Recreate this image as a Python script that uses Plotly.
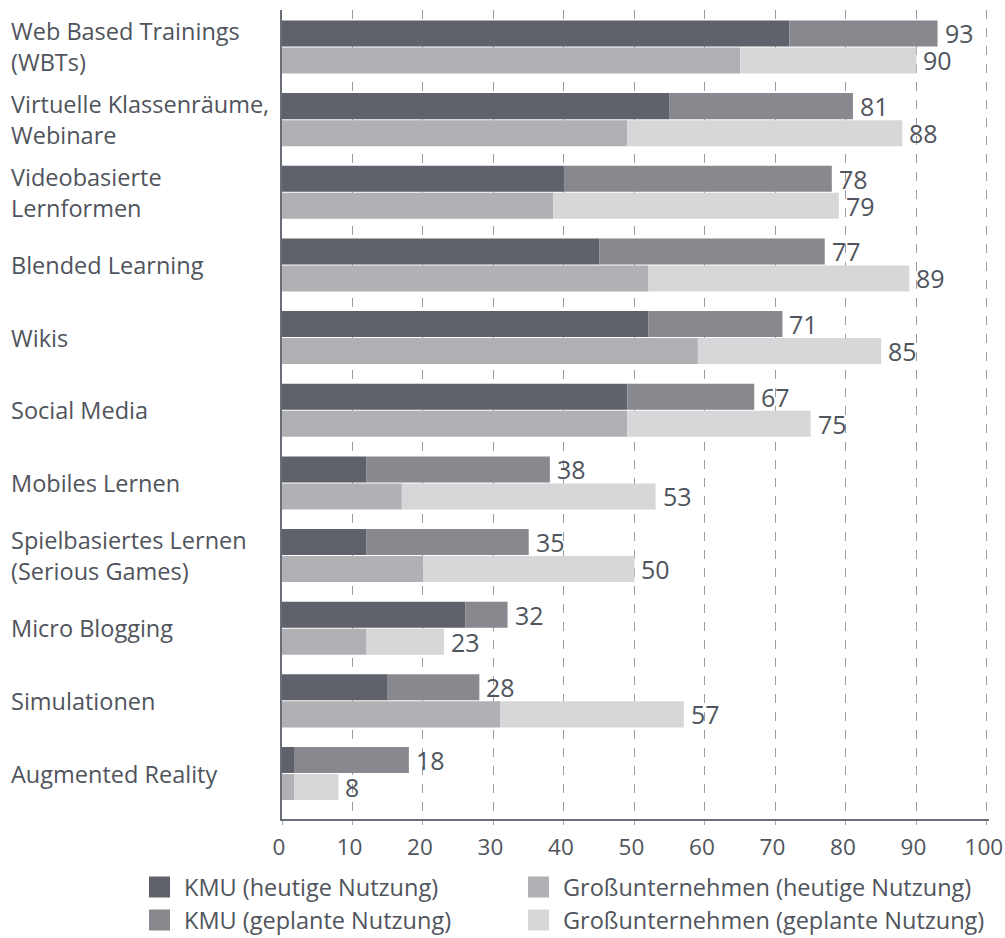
import plotly.graph_objects as go

# Survey data: share of companies using each e-learning format (%)
categories = [
    "Web Based Trainings<br>(WBTs)",
    "Virtuelle Klassenräume,<br>Webinare",
    "Videobasierte<br>Lernformen",
    "Blended Learning",
    "Wikis",
    "Social Media",
    "Mobiles Lernen",
    "Spielbasiertes Lernen<br>(Serious Games)",
    "Micro Blogging",
    "Simulationen",
    "Augmented Reality",
]
kmu_now = [72, 55, 40, 45, 52, 49, 12, 12, 26, 15, 1.7]
kmu_total = [93, 81, 78, 77, 71, 67, 38, 35, 32, 28, 18]
big_now = [65, 49, 38.5, 52, 59, 49, 17, 20, 12, 31, 1.7]
big_total = [90, 88, 79, 89, 85, 75, 53, 50, 23, 57, 8]

series_names = [
    "KMU (heutige Nutzung)",
    "KMU (geplante Nutzung)",
    "Großunternehmen (heutige Nutzung)",
    "Großunternehmen (geplante Nutzung)",
]
colors = ["#5f626b", "#88888f", "#b1b1b5", "#d7d7d9"]
x_ticks = list(range(0, 101, 10))

W, H = 1005, 938
ML, MR, MT, MB = 282, 16, 10, 119
PW, PH = W - ML - MR, H - MT - MB

TEXT = "#50545c"
FONT = "Open Sans"

idx = list(range(len(categories)))
off = 0.186
bw = 0.358
y_kmu = [i - off for i in idx]
y_big = [i + off for i in idx]

fig = go.Figure()

def seg(x, base, y, color, name):
    fig.add_trace(go.Bar(
        orientation="h", x=x, base=base, y=y, width=bw, name=name,
        marker=dict(color=color, line=dict(width=0)),
        showlegend=False, hoverinfo="skip",
    ))

seg(kmu_now, [0] * len(idx), y_kmu, colors[0], series_names[0])
seg([t - n for t, n in zip(kmu_total, kmu_now)], kmu_now, y_kmu, colors[1], series_names[1])
seg(big_now, [0] * len(idx), y_big, colors[2], series_names[2])
seg([t - n for t, n in zip(big_total, big_now)], big_now, y_big, colors[3], series_names[3])

def px_x(p):
    return (p - ML) / PW

def px_y(p):
    return (H - MB - p) / PH

annotations = []

# Total value next to the end of each bar
for totals, ys in ((kmu_total, y_kmu), (big_total, y_big)):
    for v, yy in zip(totals, ys):
        annotations.append(dict(
            x=v, xref="x", y=yy, yref="y", xanchor="left", yanchor="middle",
            xshift=5, text=str(v), showarrow=False,
            font=dict(family=FONT, size=25, color=TEXT),
        ))

# Category labels, left-aligned in the margin
for i, lab in enumerate(categories):
    annotations.append(dict(
        x=px_x(9), xref="paper", y=i, yref="y",
        xanchor="left", yanchor="middle", align="left",
        text=lab, showarrow=False,
        font=dict(family=FONT, size=23.5, color=TEXT),
    ))

# Legend (two columns, two rows)
shapes = []
legend_items = [
    (series_names[0], colors[0], 149, 887),
    (series_names[2], colors[2], 528, 887),
    (series_names[1], colors[1], 149, 920),
    (series_names[3], colors[3], 528, 920),
]
for name, col, lx, ly in legend_items:
    shapes.append(dict(
        type="rect", xref="paper", yref="paper",
        x0=px_x(lx), x1=px_x(lx + 21), y0=px_y(ly + 10.5), y1=px_y(ly - 10.5),
        fillcolor=col, line=dict(width=0),
    ))
    annotations.append(dict(
        x=px_x(lx + 33), xref="paper", y=px_y(ly), yref="paper",
        xanchor="left", yanchor="middle", text=name, showarrow=False,
        font=dict(family=FONT, size=23.5, color=TEXT),
    ))

fig.update_layout(
    width=W, height=H,
    margin=dict(l=ML, r=MR, t=MT, b=MB, autoexpand=False),
    barmode="overlay",
    plot_bgcolor="white", paper_bgcolor="white",
    showlegend=False,
    annotations=annotations,
    shapes=shapes,
    xaxis=dict(
        range=[0, 100.3], tickvals=x_ticks, ticktext=[str(v) for v in x_ticks],
        showgrid=True, gridcolor="#9c9ca3", gridwidth=1, griddash="dash",
        zeroline=False, showline=True, linecolor="#6a6e76", linewidth=1.5,
        ticks="outside", ticklen=4, tickcolor="#a0a3aa",
        ticklabelstandoff=3, ticklabelshift=-3,
        ticklabeloverflow="allow", automargin=False,
        tickfont=dict(family=FONT, size=22.5, color=TEXT),
        fixedrange=True,
    ),
    yaxis=dict(
        range=[10.626, -0.509], showticklabels=False, showgrid=False,
        zeroline=False, showline=True, linecolor="#6a6e76", linewidth=1.5,
        automargin=False, fixedrange=True,
    ),
)

fig.write_html("out.html")
